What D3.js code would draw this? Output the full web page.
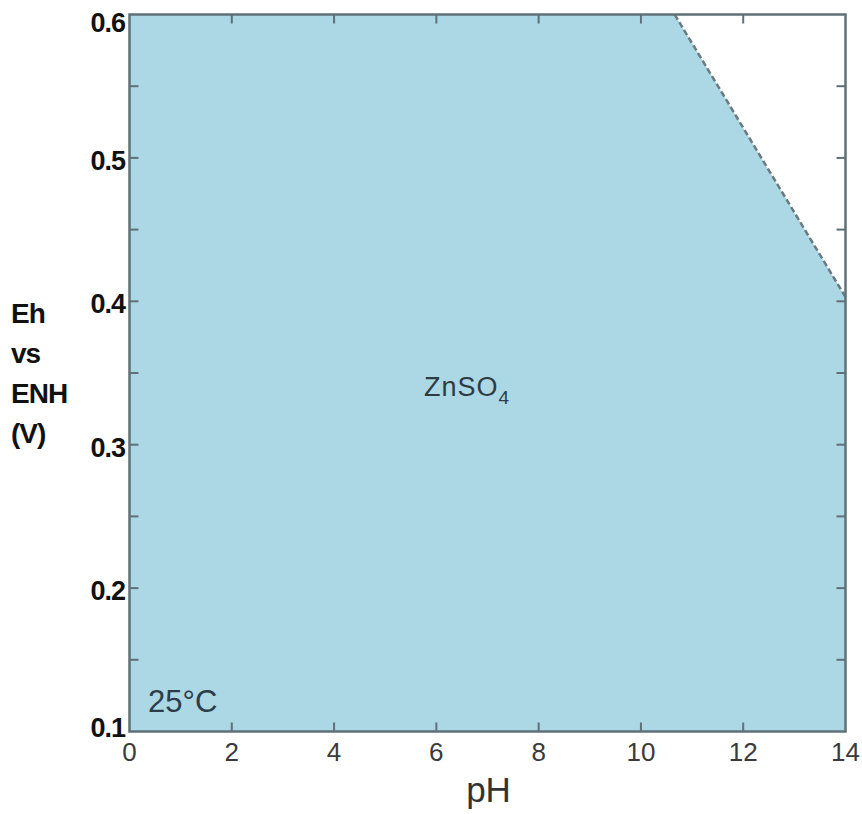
<!DOCTYPE html>
<html>
<head>
<meta charset="utf-8">
<script src="https://cdn.jsdelivr.net/npm/d3@7"></script>
<style>
  body { margin: 0; background: #fff; }
  svg { display: block; }
</style>
</head>
<body>
<div id="chart"></div>
<script>
// pH / Eh ranges and ticks
const xDomain = [0, 14];
const yDomain = [0.1, 0.6];
const xTicks = [0, 2, 4, 6, 8, 10, 12, 14];
const yTickLabels = [0.1, 0.2, 0.3, 0.4, 0.5, 0.6];
const yTickMarks = [0.15, 0.2, 0.25, 0.3, 0.35, 0.4, 0.45, 0.5, 0.55];

// upper boundary of the ZnSO4 field (dashed line)
const boundaryPH = [10.66, 14];
const boundaryEh = [0.6, 0.403];

const titleLines = ['Eh', 'vs', 'ENH', '(V)'];

const width = 862, height = 814;
const margin = {left: 129.5, right: 16.5, top: 14.5, bottom: 82.5};

const svg = d3.select('#chart').append('svg')
  .attr('width', width)
  .attr('height', height);

const x = d3.scaleLinear().domain(xDomain).range([margin.left, width - margin.right]);
const y = d3.scaleLinear().domain(yDomain).range([height - margin.bottom, margin.top]);

const axisColor = '#5f7078';

// field: everything below the boundary
const fieldPts = [
  [xDomain[0], yDomain[0]],
  [xDomain[0], yDomain[1]],
  ...boundaryPH.map((p, i) => [p, boundaryEh[i]]),
  [xDomain[1], yDomain[0]]
];
svg.append('path')
  .attr('d', d3.line().x(d => x(d[0])).y(d => y(d[1]))(fieldPts) + 'Z')
  .attr('fill', '#acd7e5');

svg.append('path')
  .attr('d', d3.line().x(d => x(d)).y((d, i) => y(boundaryEh[i]))(boundaryPH))
  .attr('fill', 'none')
  .attr('stroke', '#6b7a80')
  .attr('stroke-width', 2.5)
  .attr('stroke-dasharray', '6,3');

// ticks pointing inward on all sides
const tickLen = 9;
const g = svg.append('g').attr('stroke', axisColor).attr('stroke-width', 2);
xTicks.slice(1, -1).forEach(t => {
  g.append('line').attr('x1', x(t)).attr('x2', x(t)).attr('y1', y(yDomain[0])).attr('y2', y(yDomain[0]) - tickLen);
  g.append('line').attr('x1', x(t)).attr('x2', x(t)).attr('y1', y(yDomain[1])).attr('y2', y(yDomain[1]) + tickLen);
});
yTickMarks.forEach(t => {
  g.append('line').attr('x1', x(xDomain[0])).attr('x2', x(xDomain[0]) + tickLen).attr('y1', y(t)).attr('y2', y(t));
  g.append('line').attr('x1', x(xDomain[1])).attr('x2', x(xDomain[1]) - tickLen).attr('y1', y(t)).attr('y2', y(t));
});

svg.append('rect')
  .attr('x', x(xDomain[0])).attr('y', y(yDomain[1]))
  .attr('width', x(xDomain[1]) - x(xDomain[0]))
  .attr('height', y(yDomain[0]) - y(yDomain[1]))
  .attr('fill', 'none')
  .attr('stroke', axisColor)
  .attr('stroke-width', 2.5);

// x tick labels
svg.append('g').selectAll('text')
  .data(xTicks)
  .enter()
  .append('text')
    .attr('x', d => x(d))
    .attr('y', 761)
    .attr('text-anchor', 'middle')
    .attr('font-family', 'Liberation Sans, Arial, sans-serif')
    .attr('font-size', 26)
    .attr('fill', '#3a3a3a')
    .text(d => d);

// y tick labels (kept inside the figure at both ends)
svg.append('g').selectAll('text')
  .data(yTickLabels)
  .enter()
  .append('text')
    .attr('x', 125)
    .attr('y', d => Math.max(32, Math.min(737, y(d) + 12)))
    .attr('text-anchor', 'end')
    .attr('font-family', 'Liberation Sans, Arial, sans-serif')
    .attr('font-weight', 'bold')
    .attr('font-size', 27)
    .attr('letter-spacing', -1)
    .attr('fill', '#111')
    .text(d => d.toFixed(1));

// axis titles
svg.append('text')
  .attr('x', x(7) + 1)
  .attr('y', 802)
  .attr('text-anchor', 'middle')
  .attr('font-family', 'Liberation Sans, Arial, sans-serif')
  .attr('font-size', 35)
  .attr('fill', '#333')
  .text('pH');

svg.append('g').selectAll('text')
  .data(titleLines)
  .enter()
  .append('text')
    .attr('x', 11)
    .attr('y', (d, i) => 323 + i * 40)
    .attr('font-family', 'Liberation Sans, Arial, sans-serif')
    .attr('font-weight', 'bold')
    .attr('font-size', 28)
    .attr('letter-spacing', -1)
    .attr('fill', '#111')
    .text(d => d);

// field label
const zn = svg.append('text')
  .attr('x', 424)
  .attr('y', 396)
  .attr('font-family', 'Liberation Sans, Arial, sans-serif')
  .attr('font-size', 27)
  .attr('letter-spacing', 1)
  .attr('fill', '#2c3c44');
zn.append('tspan').text('ZnSO');
zn.append('tspan').attr('font-size', 19).attr('dy', 8).text('4');

svg.append('text')
  .attr('x', 148)
  .attr('y', 712)
  .attr('font-family', 'Liberation Sans, Arial, sans-serif')
  .attr('font-size', 31)
  .attr('fill', '#2c3c48')
  .text('25°C');
</script>
</body>
</html>
